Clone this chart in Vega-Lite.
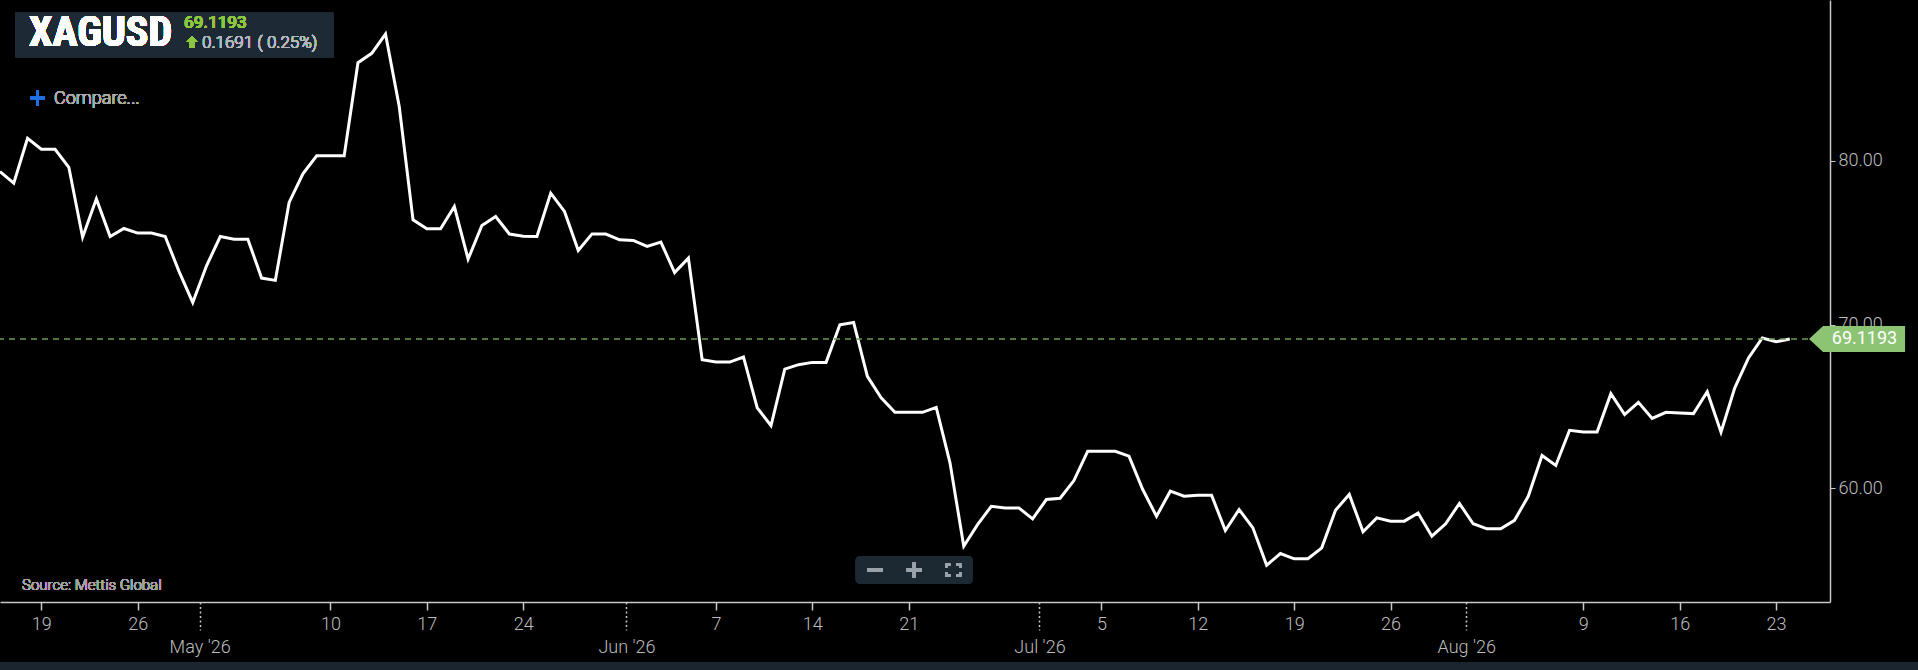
{
  "$schema": "https://vega.github.io/schema/vega-lite/v6.json",
  "width": 1830,
  "height": 602,
  "autosize": {"type": "none"},
  "padding": {"left": 0, "top": 0, "right": 88, "bottom": 68},
  "background": "#000000",
  "config": {"font": "Roboto", "view": {"stroke": null}},
  "data": {
    "values": [
      {"date": "2026-04-16", "price": 79.35},
      {"date": "2026-04-17", "price": 78.64},
      {"date": "2026-04-18", "price": 81.38},
      {"date": "2026-04-19", "price": 80.71},
      {"date": "2026-04-20", "price": 80.71},
      {"date": "2026-04-21", "price": 79.61},
      {"date": "2026-04-22", "price": 75.34},
      {"date": "2026-04-23", "price": 77.68},
      {"date": "2026-04-24", "price": 75.38},
      {"date": "2026-04-25", "price": 75.87},
      {"date": "2026-04-26", "price": 75.59},
      {"date": "2026-04-27", "price": 75.59},
      {"date": "2026-04-28", "price": 75.38},
      {"date": "2026-04-29", "price": 73.25},
      {"date": "2026-04-30", "price": 71.35},
      {"date": "2026-05-01", "price": 73.59},
      {"date": "2026-05-02", "price": 75.38},
      {"date": "2026-05-03", "price": 75.22},
      {"date": "2026-05-04", "price": 75.22},
      {"date": "2026-05-05", "price": 72.84},
      {"date": "2026-05-06", "price": 72.70},
      {"date": "2026-05-07", "price": 77.46},
      {"date": "2026-05-08", "price": 79.21},
      {"date": "2026-05-09", "price": 80.31},
      {"date": "2026-05-10", "price": 80.31},
      {"date": "2026-05-11", "price": 80.31},
      {"date": "2026-05-12", "price": 86.00},
      {"date": "2026-05-13", "price": 86.57},
      {"date": "2026-05-14", "price": 87.75},
      {"date": "2026-05-15", "price": 83.31},
      {"date": "2026-05-16", "price": 76.40},
      {"date": "2026-05-17", "price": 75.85},
      {"date": "2026-05-18", "price": 75.85},
      {"date": "2026-05-19", "price": 77.21},
      {"date": "2026-05-20", "price": 74.00},
      {"date": "2026-05-21", "price": 76.05},
      {"date": "2026-05-22", "price": 76.60},
      {"date": "2026-05-23", "price": 75.53},
      {"date": "2026-05-24", "price": 75.40},
      {"date": "2026-05-25", "price": 75.38},
      {"date": "2026-05-26", "price": 78.03},
      {"date": "2026-05-27", "price": 76.91},
      {"date": "2026-05-28", "price": 74.53},
      {"date": "2026-05-29", "price": 75.54},
      {"date": "2026-05-30", "price": 75.53},
      {"date": "2026-05-31", "price": 75.18},
      {"date": "2026-06-01", "price": 75.14},
      {"date": "2026-06-02", "price": 74.77},
      {"date": "2026-06-03", "price": 75.04},
      {"date": "2026-06-04", "price": 73.18},
      {"date": "2026-06-05", "price": 74.06},
      {"date": "2026-06-06", "price": 67.85},
      {"date": "2026-06-07", "price": 67.71},
      {"date": "2026-06-08", "price": 67.71},
      {"date": "2026-06-09", "price": 68.02},
      {"date": "2026-06-10", "price": 64.91},
      {"date": "2026-06-11", "price": 63.83},
      {"date": "2026-06-12", "price": 67.28},
      {"date": "2026-06-13", "price": 67.55},
      {"date": "2026-06-14", "price": 67.69},
      {"date": "2026-06-15", "price": 67.69},
      {"date": "2026-06-16", "price": 69.99},
      {"date": "2026-06-17", "price": 70.13},
      {"date": "2026-06-18", "price": 66.84},
      {"date": "2026-06-19", "price": 65.52},
      {"date": "2026-06-20", "price": 64.64},
      {"date": "2026-06-21", "price": 64.64},
      {"date": "2026-06-22", "price": 64.64},
      {"date": "2026-06-23", "price": 64.94},
      {"date": "2026-06-24", "price": 61.55},
      {"date": "2026-06-25", "price": 56.46},
      {"date": "2026-06-26", "price": 57.78},
      {"date": "2026-06-27", "price": 58.90},
      {"date": "2026-06-28", "price": 58.80},
      {"date": "2026-06-29", "price": 58.80},
      {"date": "2026-06-30", "price": 58.13},
      {"date": "2026-07-01", "price": 59.31},
      {"date": "2026-07-02", "price": 59.39},
      {"date": "2026-07-03", "price": 60.47},
      {"date": "2026-07-04", "price": 62.26},
      {"date": "2026-07-05", "price": 62.26},
      {"date": "2026-07-06", "price": 62.26},
      {"date": "2026-07-07", "price": 61.96},
      {"date": "2026-07-08", "price": 59.92},
      {"date": "2026-07-09", "price": 58.29},
      {"date": "2026-07-10", "price": 59.82},
      {"date": "2026-07-11", "price": 59.51},
      {"date": "2026-07-12", "price": 59.57},
      {"date": "2026-07-13", "price": 59.57},
      {"date": "2026-07-14", "price": 57.42},
      {"date": "2026-07-15", "price": 58.70},
      {"date": "2026-07-16", "price": 57.58},
      {"date": "2026-07-17", "price": 55.30},
      {"date": "2026-07-18", "price": 56.01},
      {"date": "2026-07-19", "price": 55.69},
      {"date": "2026-07-20", "price": 55.69},
      {"date": "2026-07-21", "price": 56.36},
      {"date": "2026-07-22", "price": 58.66},
      {"date": "2026-07-23", "price": 59.62},
      {"date": "2026-07-24", "price": 57.34},
      {"date": "2026-07-25", "price": 58.19},
      {"date": "2026-07-26", "price": 57.99},
      {"date": "2026-07-27", "price": 57.99},
      {"date": "2026-07-28", "price": 58.49},
      {"date": "2026-07-29", "price": 57.07},
      {"date": "2026-07-30", "price": 57.83},
      {"date": "2026-07-31", "price": 59.07},
      {"date": "2026-08-01", "price": 57.83},
      {"date": "2026-08-02", "price": 57.52},
      {"date": "2026-08-03", "price": 57.52},
      {"date": "2026-08-04", "price": 58.04},
      {"date": "2026-08-05", "price": 59.51},
      {"date": "2026-08-06", "price": 62.00},
      {"date": "2026-08-07", "price": 61.39},
      {"date": "2026-08-08", "price": 63.54},
      {"date": "2026-08-09", "price": 63.44},
      {"date": "2026-08-10", "price": 63.44},
      {"date": "2026-08-11", "price": 65.78},
      {"date": "2026-08-12", "price": 64.50},
      {"date": "2026-08-13", "price": 65.25},
      {"date": "2026-08-14", "price": 64.27},
      {"date": "2026-08-15", "price": 64.64},
      {"date": "2026-08-16", "price": 64.60},
      {"date": "2026-08-17", "price": 64.56},
      {"date": "2026-08-18", "price": 65.90},
      {"date": "2026-08-19", "price": 63.42},
      {"date": "2026-08-20", "price": 66.13},
      {"date": "2026-08-21", "price": 67.96},
      {"date": "2026-08-22", "price": 69.18},
      {"date": "2026-08-23", "price": 68.9502},
      {"date": "2026-08-24", "price": 69.1193}
    ]
  },
  "layer": [
    {
      "mark": {"type": "rect", "fill": "#1b2530"},
      "encoding": {
        "x": {"datum": {"year": 2026, "month": 4, "date": 10, "utc": true}, "type": "temporal"},
        "x2": {"datum": {"year": 2026, "month": 9, "date": 10, "utc": true}},
        "y": {"datum": 49.38, "type": "quantitative"},
        "y2": {"datum": 40}
      }
    },
    {
      "mark": {"type": "rect", "fill": "#1d2934"},
      "encoding": {
        "x": {"datum": {"year": 2026, "month": 4, "date": 17, "hours": 2, "minutes": 8, "utc": true}, "type": "temporal"},
        "x2": {"datum": {"year": 2026, "month": 5, "date": 10, "hours": 5, "minutes": 45, "utc": true}},
        "y": {"datum": 89.05, "type": "quantitative"},
        "y2": {"datum": 86.30}
      }
    },
    {
      "mark": {"type": "rect", "fill": "#1c2832", "cornerRadius": 4},
      "encoding": {
        "x": {"datum": {"year": 2026, "month": 6, "date": 17, "hours": 3, "minutes": 36, "utc": true}, "type": "temporal"},
        "x2": {"datum": {"year": 2026, "month": 6, "date": 25, "hours": 15, "minutes": 36, "utc": true}},
        "y": {"datum": 55.85, "type": "quantitative"},
        "y2": {"datum": 54.18}
      }
    },
    {
      "mark": {"type": "line", "color": "#ffffff", "strokeWidth": 3},
      "encoding": {
        "x": {
          "field": "date",
          "type": "temporal",
          "scale": {
            "type": "utc",
            "domain": [
              {"year": 2026, "month": 4, "date": 16, "utc": true},
              {"year": 2026, "month": 8, "date": 26, "hours": 22, "utc": true}
            ]
          },
          "axis": {
            "orient": "bottom",
            "title": null,
            "grid": false,
            "values": [
              {"year": 2026, "month": 4, "date": 19, "utc": true},
              {"year": 2026, "month": 4, "date": 26, "utc": true},
              {"year": 2026, "month": 4, "date": 30, "hours": 12, "utc": true},
              {"year": 2026, "month": 5, "date": 10, "utc": true},
              {"year": 2026, "month": 5, "date": 17, "utc": true},
              {"year": 2026, "month": 5, "date": 24, "utc": true},
              {"year": 2026, "month": 5, "date": 31, "hours": 12, "utc": true},
              {"year": 2026, "month": 6, "date": 7, "utc": true},
              {"year": 2026, "month": 6, "date": 14, "utc": true},
              {"year": 2026, "month": 6, "date": 21, "utc": true},
              {"year": 2026, "month": 6, "date": 30, "hours": 12, "utc": true},
              {"year": 2026, "month": 7, "date": 5, "utc": true},
              {"year": 2026, "month": 7, "date": 12, "utc": true},
              {"year": 2026, "month": 7, "date": 19, "utc": true},
              {"year": 2026, "month": 7, "date": 26, "utc": true},
              {"year": 2026, "month": 7, "date": 31, "hours": 12, "utc": true},
              {"year": 2026, "month": 8, "date": 9, "utc": true},
              {"year": 2026, "month": 8, "date": 16, "utc": true},
              {"year": 2026, "month": 8, "date": 23, "utc": true}
            ],
            "labelExpr": "utchours(datum.value) == 12 ? utcFormat(time(datum.value) + 43200000, \"%b '%y\") : utcFormat(datum.value, '%-d')",
            "labelOverlap": false,
            "labelFlush": false,
            "labelFont": "Roboto",
            "labelFontSize": 18,
            "labelFontWeight": 300,
            "labelColor": "#bdbdbd",
            "domainColor": "#c8c8c8",
            "domainWidth": 1.5,
            "tickColor": "#c8c8c8",
            "tickWidth": 1.5,
            "tickSize": {"condition": {"test": "utchours(datum.value) == 12", "value": 28}, "value": 8},
            "tickDash": {"condition": {"test": "utchours(datum.value) == 12", "value": [2, 2.5]}, "value": []},
            "labelPadding": {"condition": {"test": "utchours(datum.value) == 12", "value": 8}, "value": 5}
          }
        },
        "y": {
          "field": "price",
          "type": "quantitative",
          "scale": {"domain": [53.05, 89.83], "nice": false, "zero": false},
          "axis": {
            "orient": "right",
            "title": null,
            "grid": false,
            "values": [60, 70, 80],
            "format": ".2f",
            "labelFont": "Roboto",
            "labelFontSize": 18,
            "labelFontWeight": 300,
            "labelColor": "#bdbdbd",
            "labelPadding": 3,
            "domainColor": "#c8c8c8",
            "domainWidth": 1.5,
            "tickColor": "#c8c8c8",
            "tickSize": 5
          }
        }
      }
    },
    {
      "mark": {"type": "text", "align": "left", "baseline": "alphabetic", "font": "Liberation Sans Narrow, Roboto Condensed, Roboto", "fontWeight": "bold", "fontSize": 42, "color": "#ffffff"},
      "encoding": {
        "x": {"datum": {"year": 2026, "month": 4, "date": 18, "hours": 2, "minutes": 33, "utc": true}, "type": "temporal"},
        "y": {"datum": 87.02, "type": "quantitative"},
        "text": {"value": "XAGUSD"}
      }
    },
    {
      "mark": {"type": "text", "align": "left", "baseline": "alphabetic", "fontWeight": 500, "fontSize": 17, "color": "#8dc63f"},
      "encoding": {
        "x": {"datum": {"year": 2026, "month": 4, "date": 29, "hours": 8, "minutes": 44, "utc": true}, "type": "temporal"},
        "y": {"datum": 88.12, "type": "quantitative"},
        "text": {"value": "69.1193"}
      }
    },
    {
      "mark": {"type": "point", "shape": "M0,-1 L1,0 L0.4,0 L0.4,1 L-0.4,1 L-0.4,0 L-1,0 Z", "filled": true, "fill": "#8dc63f", "opacity": 1, "strokeWidth": 0, "size": 144},
      "encoding": {
        "x": {"datum": {"year": 2026, "month": 4, "date": 29, "hours": 22, "minutes": 42, "utc": true}, "type": "temporal"},
        "y": {"datum": 87.26, "type": "quantitative"}
      }
    },
    {
      "mark": {"type": "text", "align": "left", "baseline": "alphabetic", "fontSize": 17, "fontWeight": 300, "color": "#b3b8bc"},
      "encoding": {
        "x": {"datum": {"year": 2026, "month": 4, "date": 30, "hours": 16, "minutes": 8, "utc": true}, "type": "temporal"},
        "y": {"datum": 86.92, "type": "quantitative"},
        "text": {"value": "0.1691 ( 0.25%)"}
      }
    },
    {
      "mark": {"type": "point", "shape": "M-1,-0.2 L1,-0.2 L1,0.2 L-1,0.2 Z M-0.2,-1 L0.2,-1 L0.2,1 L-0.2,1 Z", "filled": true, "fill": "#1f6fe5", "opacity": 1, "strokeWidth": 0, "size": 225},
      "encoding": {
        "x": {"datum": {"year": 2026, "month": 4, "date": 18, "hours": 17, "minutes": 22, "utc": true}, "type": "temporal"},
        "y": {"datum": 83.845, "type": "quantitative"}
      }
    },
    {
      "mark": {"type": "text", "align": "left", "baseline": "alphabetic", "fontSize": 18, "fontWeight": 300, "color": "#a8a8a8"},
      "encoding": {
        "x": {"datum": {"year": 2026, "month": 4, "date": 19, "hours": 22, "minutes": 8, "utc": true}, "type": "temporal"},
        "y": {"datum": 83.48, "type": "quantitative"},
        "text": {"value": "Compare..."}
      }
    },
    {
      "mark": {"type": "text", "align": "left", "baseline": "alphabetic", "fontSize": 15, "fontWeight": 300, "color": "#a3a3a3"},
      "encoding": {
        "x": {"datum": {"year": 2026, "month": 4, "date": 17, "hours": 14, "minutes": 21, "utc": true}, "type": "temporal"},
        "y": {"datum": 53.76, "type": "quantitative"},
        "text": {"value": "Source: Mettis Global"}
      }
    },
    {
      "mark": {"type": "point", "shape": "M-1,-0.2 L1,-0.2 L1,0.2 L-1,0.2 Z", "filled": true, "fill": "#9aa3aa", "opacity": 1, "strokeWidth": 0, "size": 225},
      "encoding": {
        "x": {"datum": {"year": 2026, "month": 6, "date": 18, "hours": 13, "minutes": 12, "utc": true}, "type": "temporal"},
        "y": {"datum": 55.0, "type": "quantitative"}
      }
    },
    {
      "mark": {"type": "point", "shape": "M-1,-0.2 L1,-0.2 L1,0.2 L-1,0.2 Z M-0.2,-1 L0.2,-1 L0.2,1 L-0.2,1 Z", "filled": true, "fill": "#9aa3aa", "opacity": 1, "strokeWidth": 0, "size": 225},
      "encoding": {
        "x": {"datum": {"year": 2026, "month": 6, "date": 21, "hours": 9, "minutes": 50, "utc": true}, "type": "temporal"},
        "y": {"datum": 55.0, "type": "quantitative"}
      }
    },
    {
      "mark": {"type": "point", "shape": "M-1,-0.8 L-0.4,-0.8 L-0.4,-0.55 L-0.72,-0.55 L-0.72,-0.25 L-1,-0.25 Z M1,-0.8 L0.4,-0.8 L0.4,-0.55 L0.72,-0.55 L0.72,-0.25 L1,-0.25 Z M-1,0.8 L-0.4,0.8 L-0.4,0.55 L-0.72,0.55 L-0.72,0.25 L-1,0.25 Z M1,0.8 L0.4,0.8 L0.4,0.55 L0.72,0.55 L0.72,0.25 L1,0.25 Z", "filled": true, "fill": "#9aa3aa", "opacity": 1, "strokeWidth": 0, "size": 256},
      "encoding": {
        "x": {"datum": {"year": 2026, "month": 6, "date": 24, "hours": 5, "minutes": 46, "utc": true}, "type": "temporal"},
        "y": {"datum": 55.0, "type": "quantitative"}
      }
    },
    {
      "transform": [{"aggregate": [{"op": "argmax", "field": "date", "as": "last"}]}],
      "layer": [
        {
          "mark": {"type": "rule", "color": "#6c9c50", "strokeDash": [6, 5], "strokeWidth": 1.5},
          "encoding": {
            "y": {"field": "last.price", "type": "quantitative"}
          }
        },
        {
          "mark": {"type": "point", "shape": "M-1,0 L-0.708,-0.271 L1,-0.271 L1,0.271 L-0.708,0.271 Z", "filled": true, "fill": "#8dc473", "opacity": 1, "strokeWidth": 0, "size": 9216},
          "encoding": {
            "x": {"datum": {"year": 2026, "month": 8, "date": 28, "hours": 21, "minutes": 8, "utc": true}, "type": "temporal"},
            "y": {"field": "last.price", "type": "quantitative"}
          }
        },
        {
          "mark": {"type": "text", "align": "center", "baseline": "middle", "fontSize": 18, "color": "#ffffff"},
          "encoding": {
            "x": {"datum": {"year": 2026, "month": 8, "date": 29, "hours": 10, "minutes": 8, "utc": true}, "type": "temporal"},
            "y": {"field": "last.price", "type": "quantitative"},
            "text": {"field": "last.price", "type": "quantitative", "format": ".4f"}
          }
        }
      ]
    }
  ]
}
